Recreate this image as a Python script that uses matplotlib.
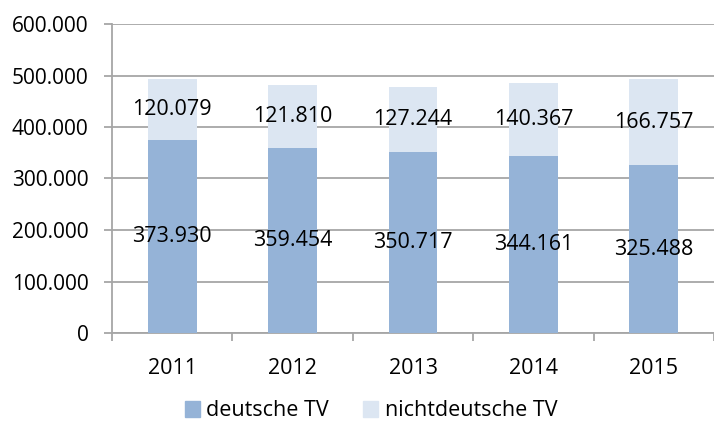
import matplotlib.pyplot as plt
from matplotlib.patches import Patch
from matplotlib.ticker import FuncFormatter, MultipleLocator

# Tatverdächtige: deutsche / nichtdeutsche
years = ['2011', '2012', '2013', '2014', '2015']
deutsche = [373930, 359454, 350717, 344161, 325488]
nichtdeutsche = [120079, 121810, 127244, 140367, 166757]

dark = '#95B3D7'
light = '#DCE6F2'
grid_col = '#A6A6A6'

plt.rcParams['font.family'] = ['Open Sans', 'DejaVu Sans']
plt.rcParams['font.size'] = 15.5


def fmt(v):
    return '{:,}'.format(int(v)).replace(',', '.')


fig = plt.figure(figsize=(7.14, 4.21), dpi=100)
ax = fig.add_axes([112 / 714, 88 / 421, 1 - 112 / 714, 309 / 421])

x = list(range(len(years)))
w = 0.405
ax.bar(x, deutsche, w, color=dark, zorder=3)
ax.bar(x, nichtdeutsche, w, bottom=deutsche, color=light, zorder=3)

for i in x:
    ax.text(i, deutsche[i] / 2, fmt(deutsche[i]), ha='center', va='center', zorder=4)
    ax.text(i, deutsche[i] + nichtdeutsche[i] / 2, fmt(nichtdeutsche[i]),
            ha='center', va='center', zorder=4)

ax.set_ylim(0, 600000)
ax.set_xlim(-0.5, 4.5 - 3 / 121)
ax.yaxis.set_major_locator(MultipleLocator(100000))
ax.yaxis.set_major_formatter(FuncFormatter(lambda v, p: fmt(v)))
ax.grid(axis='y', color=grid_col, linewidth=1.3, zorder=0)

ax.set_xticks(x)
ax.set_xticklabels(years)
ax.set_xticks([i + 0.5 for i in range(-1, 5)], minor=True)
ax.tick_params(axis='x', which='major', length=0, pad=18)
ax.tick_params(axis='x', which='minor', length=6, width=1.3, color=grid_col)
ax.tick_params(axis='y', length=6, width=1.3, color=grid_col, pad=11, labelsize=15)

for s in ['top', 'right']:
    ax.spines[s].set_visible(False)
for s in ['left', 'bottom']:
    ax.spines[s].set_color(grid_col)
    ax.spines[s].set_linewidth(1.3)

handles = [Patch(color=dark, label='deutsche TV'),
           Patch(color=light, label='nichtdeutsche TV')]
fig.legend(handles=handles, loc='center', bbox_to_anchor=(371 / 714, 1 - 411 / 421),
           ncol=2, frameon=False, handlelength=0.7, handleheight=0.7,
           handletextpad=0.3, columnspacing=1.6)

fig.savefig('out.png', dpi=100)
